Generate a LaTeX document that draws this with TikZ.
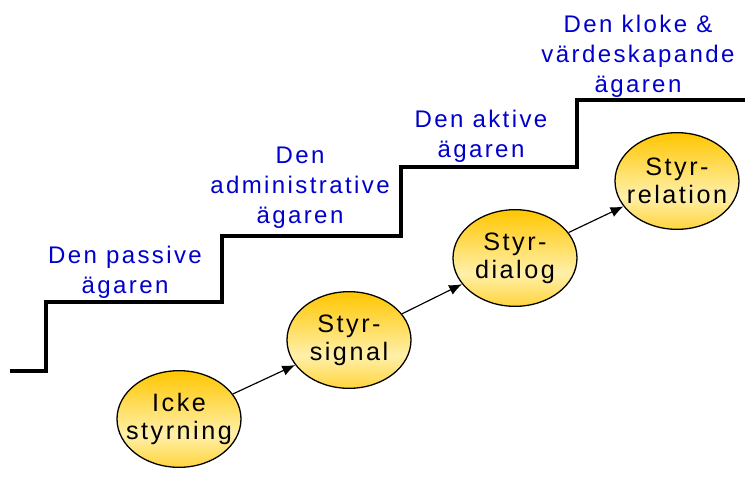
\documentclass[tikz,border=0pt]{standalone}
\usepackage{fontspec}
\setmainfont{Liberation Sans}
\newfontfamily\spaced{Liberation Sans}[LetterSpace=10]
\usetikzlibrary{shapes.geometric,arrows.meta}
\definecolor{labelBlue}{RGB}{0, 0, 204}
\definecolor{ballTop}{RGB}{255, 198, 0}
\definecolor{ballLight}{RGB}{255, 240, 170}
\definecolor{ballBottom}{RGB}{255, 212, 60}
\pgfdeclareverticalshading{ball}{100bp}{color(0bp)=(ballBottom); color(25bp)=(ballBottom); color(42bp)=(ballLight); color(75bp)=(ballTop); color(100bp)=(ballTop)}

\begin{document}
\begin{tikzpicture}[x=0.03cm, y=-0.03cm,
    stage/.style={ellipse, draw, line width=1.1pt, shading=ball, minimum width=3.72cm,
        minimum height=2.9cm, inner xsep=-14pt, inner ysep=0pt, align=center,
        font=\spaced\fontsize{21.5}{24}\selectfont},
    owner/.style={text=labelBlue, align=center, font=\spaced\fontsize{20.5}{25.5}\selectfont},
    link/.style={line width=1pt, -{Latex[length=11pt, width=9pt]}}]
    \useasboundingbox (0,0) rectangle (745,477);
    % the stairs
    \draw[line width=3.4pt, line cap=rect] (12,371) -- (46,371) -- (46,302) -- (222,302) -- (222,236)
        -- (401,236) -- (401,167) -- (577,167) -- (577,100) -- (745,100);
    \node[owner] (passive) at (125,272) {Den passive\\ägaren};
    \node[owner] (admin) at (300,188) {Den\\administrative\\ägaren};
    \node[owner] (active) at (481,136) {Den aktive\\ägaren};
    \node[owner] (wise) at (638,56) {Den kloke \&\\värdeskapande\\ägaren};
    % the four steps of governance
    \node[stage] (none) at (179,419) {Icke\\styrning};
    \node[stage] (signal) at (349,340) {Styr-\\signal};
    \node[stage] (dialog) at (515,258) {Styr-\\dialog};
    \node[stage] (relation) at (677,181) {Styr-\\relation};
    \draw[link] (none) -- (signal);
    \draw[link] (signal) -- (dialog);
    \draw[link] (dialog) -- (relation);
\end{tikzpicture}
\end{document}
